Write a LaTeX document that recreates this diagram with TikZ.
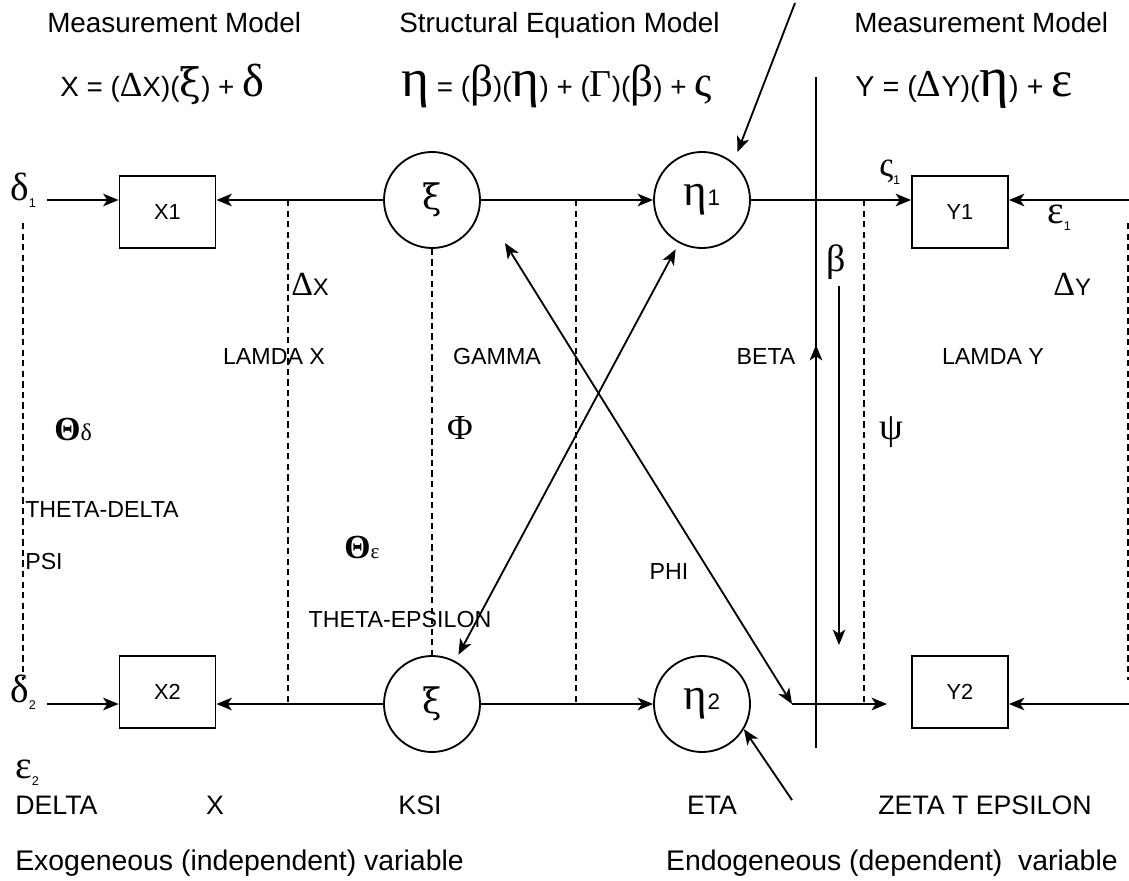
\documentclass[tikz,border=0pt]{standalone}
\usepackage{fontspec}
\setmainfont{Liberation Sans}
\newfontfamily\grk{Liberation Serif}
\newfontfamily\grkx{DejaVu Serif}
\usetikzlibrary{arrows.meta}
\newcommand\gk[2][24]{{\grk\fontsize{#1}{#1}\selectfont #2}}
\newcommand\gx[2][24]{{\grkx\fontsize{#1}{#1}\selectfont #2}}
\newcommand\lo[1]{\raisebox{-5pt}{\fontsize{9}{9}\selectfont #1}}

\begin{document}
\begin{tikzpicture}[x=0.025cm, y=-0.025cm,
        obsbox/.style  = {rectangle, draw, line width=1.3pt,
                          minimum width=2.4cm, minimum height=1.78cm,
                          font=\fontsize{15.5}{15.5}\selectfont},
        latcirc/.style = {circle, draw, line width=1.3pt,
                          minimum size=2.4cm, inner sep=0pt},
        arr/.style     = {-{Stealth[length=11pt,width=9pt,inset=3pt]}, line width=1.3pt},
        darr/.style    = {{Stealth[length=11pt,width=9pt,inset=3pt]}-{Stealth[length=11pt,width=9pt,inset=3pt]},
                          line width=1.3pt},
        dsh/.style     = {dash pattern=on 4.5pt off 3pt, line width=1.2pt},
        lbl/.style     = {font=\fontsize{16.5}{16.5}\selectfont, inner sep=0pt},
        blbl/.style    = {font=\fontsize{19}{19}\selectfont, inner sep=0pt},
        hdr/.style     = {font=\fontsize{19.8}{19.8}\selectfont, inner sep=0pt, anchor=base west}
    ]
    \useasboundingbox (0,0) rectangle (1129,880);

    % headings and equations
    \node[hdr] (hmx) at (47,33) {Measurement Model};
    \node[hdr] (hsem) at (399,33) {Structural Equation Model};
    \node[hdr] (hmy) at (854,33) {Measurement Model};
    \node[hdr] (eqx) at (60,97)
        {X = (\gk[25]{Δ}X)(\gx[28]{ξ}) + \gk[33]{δ}};
    \node[hdr] (eqs) at (401,97)
        {\gk[38]{η} = (\gk[32]{β})(\gk[38]{η}) + (\gk[27]{Γ})(\gk[32]{β}) + \gk[31]{ς}};
    \node[hdr, font=\fontsize{20.5}{20.5}\selectfont] (eqy) at (855,97)
        {Y = (\gk[27]{Δ}Y)(\gk[40]{η}) + \gk[36]{ε}};

    % observed and latent variables
    \node[obsbox] (x1) at (167.5,212) {X1};
    \node[obsbox] (x2) at (167.5,692) {X2};
    \node[obsbox] (y1) at (960,212) {Y1};
    \node[obsbox] (y2) at (960,692) {Y2};
    \node[latcirc] (xi1) at (432,200) {\raisebox{6pt}{\gx[25]{ξ}}};
    \node[latcirc] (xi2) at (432,704) {\raisebox{6pt}{\gx[25]{ξ}}};
    \node[latcirc] (eta1) at (702,200)
        {\raisebox{4pt}{\gk[32]{η}{\fontsize{16}{16}\selectfont 1}}};
    \node[latcirc] (eta2) at (702,704)
        {\raisebox{4pt}{\gk[32]{η}{\fontsize{16}{16}\selectfont 2}}};

    % greek labels
    \node[inner sep=0pt, anchor=base west] (d1) at (10,200) {\gk[28]{δ}\lo{1}};
    \node[inner sep=0pt, anchor=base west] (d2) at (10,702) {\gk[28]{δ}\lo{2}};
    \node[inner sep=0pt, anchor=base west] (e2) at (15,778) {\gk[28]{ε}\lo{2}};
    \node[inner sep=0pt, anchor=base west] (e1) at (1047,223) {\gk[28]{ε}\lo{1}};
    \node[inner sep=0pt, anchor=base west] (z1) at (879,177) {\gk[25]{ς}\lo{1}};
    \node[inner sep=0pt, anchor=base west] (dx) at (291,295)
        {\gk[24]{Δ}{\fontsize{17}{17}\selectfont X}};
    \node[inner sep=0pt, anchor=base west] (dy) at (1053,295)
        {\gk[24]{Δ}{\fontsize{17}{17}\selectfont Y}};
    \node[inner sep=0pt, anchor=base west] (thd) at (54,440)
        {\gk[24]{\bfseries Θ}\gk[17]{δ}};
    \node[inner sep=0pt, anchor=base west] (the) at (344,558)
        {\gk[24]{\bfseries Θ}\gk[15]{ε}};
    \node[inner sep=0pt] (phig) at (460,428) {\gk[25]{Φ}};
    \node[inner sep=0pt] (betg) at (836,262) {\gk[27]{β}};
    \node[inner sep=0pt] (psig) at (891,432) {\gk[27]{ψ}};

    % text labels
    \node[lbl] (lamx) at (274,357) {LAMDA X};
    \node[lbl] (gam) at (497,357) {GAMMA};
    \node[lbl] (bet) at (766,357) {BETA};
    \node[lbl] (lamy) at (993,357) {LAMDA Y};
    \node[lbl, anchor=west] (thdt) at (25,510) {THETA-DELTA};
    \node[lbl, anchor=west] (psit) at (25,562) {PSI};
    \node[lbl] (thet) at (400,620) {THETA-EPSILON};
    \node[lbl] (phit) at (669,572) {PHI};
    \node[blbl, anchor=west] (delt) at (15,805) {DELTA};
    \node[blbl] (xt) at (215,805) {X};
    \node[blbl] (ksit) at (420,805) {KSI};
    \node[blbl] (etat) at (712,805) {ETA};
    \node[blbl] (zet) at (985,805) {ZETA T EPSILON};
    \node[blbl, font=\fontsize{20.2}{20.2}\selectfont, anchor=west] (exo) at (15,863)
        {Exogeneous (independent) variable};
    \node[blbl, font=\fontsize{20.2}{20.2}\selectfont, anchor=east] (endo) at (1118,863)
        {Endogeneous (dependent)\ \ variable};

    % free ends
    \coordinate (d1s) at (47,200);
    \coordinate (d2s) at (47,704);
    \coordinate (e1s) at (1129,200);
    \coordinate (e2s) at (1129,704);
    \coordinate (zt1) at (795,3);
    \coordinate (zt2) at (792,800);
    \coordinate (bb) at (816,748);
    \coordinate (bm) at (816,345);
    \coordinate (bt) at (816,77);
    \coordinate (ps1) at (839,286);
    \coordinate (ps2) at (839,645);
    \coordinate (ph1) at (505,243);
    \coordinate (knee) at (792,704);
    \coordinate (y2in) at (887,704);

    % paths
    \draw[arr] (d1s) -- (x1.west |- d1s);
    \draw[arr] (d2s) -- (x2.west |- d2s);
    \draw[arr] (xi1) -- (x1.east |- xi1);
    \draw[arr] (xi2) -- (x2.east |- xi2);
    \draw[arr] (xi1) -- (eta1);
    \draw[arr] (xi2) -- (eta2);
    \draw[arr] (eta1) -- (y1.west |- eta1);
    \draw[arr] (e1s) -- (y1.east |- e1s);
    \draw[arr] (e2s) -- (y2.east |- e2s);
    \draw[arr, shorten >=8pt] (zt1) -- (eta1.50);
    \draw[arr] (zt2) -- (eta2.-31);
    \draw[darr, shorten >=5pt, shorten <=5pt] (xi2) -- (eta1);
    \draw[darr] (ph1) -- (knee);
    \draw[arr] (knee) -- (y2in);
    \draw[line width=1.3pt] (bb) -- (bt);
    \draw[arr] (bb) -- (bm);
    \draw[arr] (ps1) -- (ps2);

    % dashed links
    \draw[dsh] (23,223) -- (23,680);
    \draw[dsh] (288,200) -- (288,704);
    \draw[dsh] (xi1.south) -- (xi2.north);
    \draw[dsh] (576,200) -- (576,704);
    \draw[dsh] (864,200) -- (864,704);
    \draw[dsh] (1128,223) -- (1128,680);
\end{tikzpicture}
\end{document}
